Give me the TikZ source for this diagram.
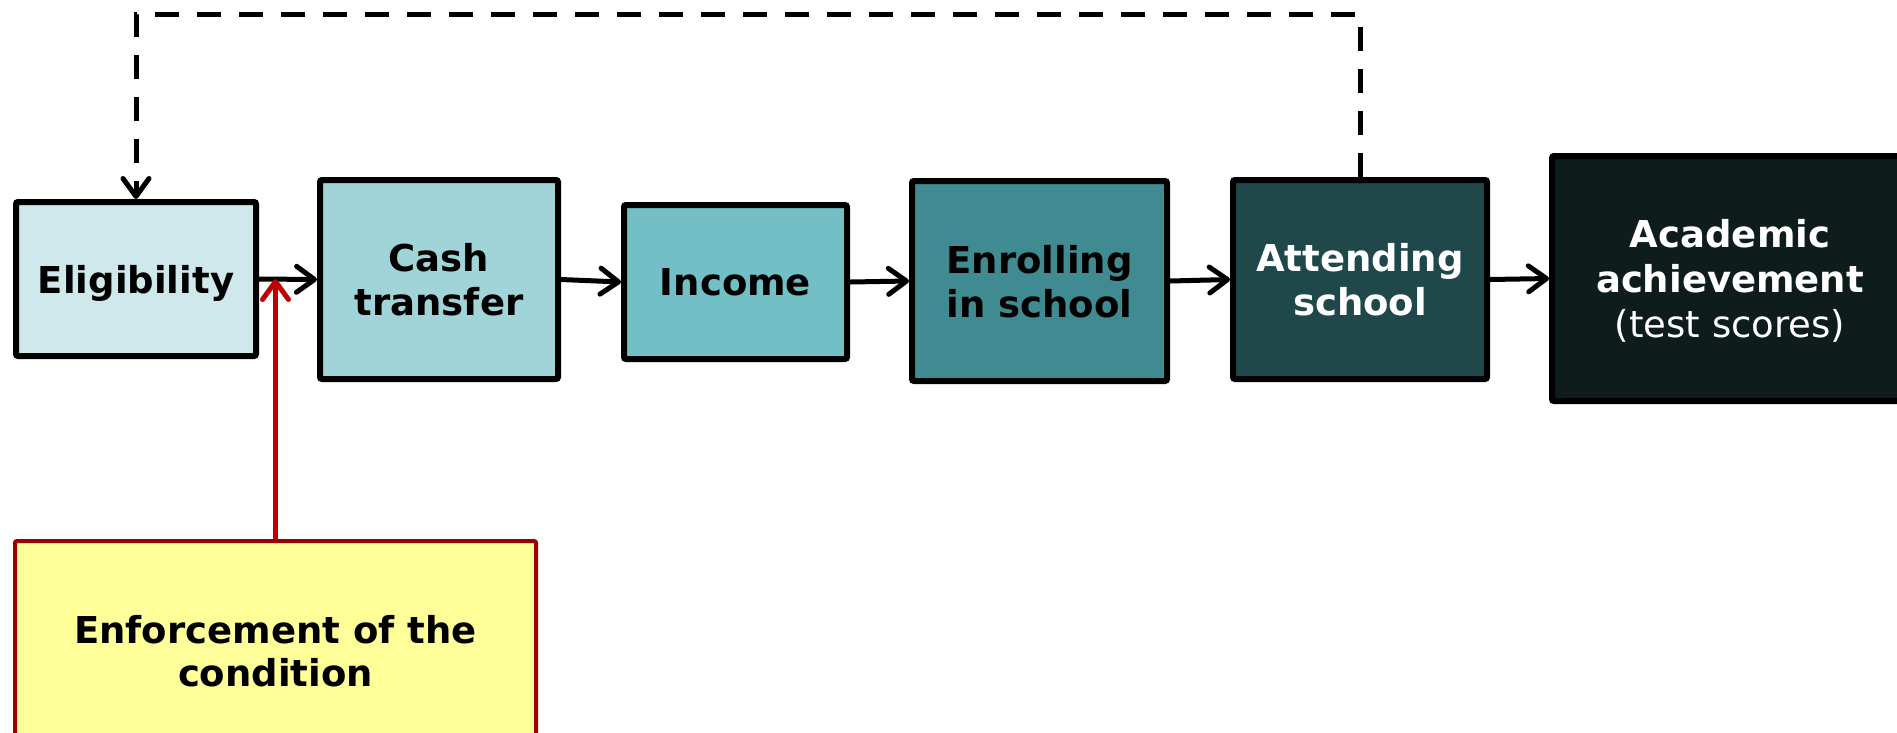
\documentclass[tikz,border=0pt]{standalone}
\usepackage{fontspec}
\setmainfont{DejaVu Sans}
\usetikzlibrary{arrows.meta}

\definecolor{eligC}{HTML}{CFE8EC}
\definecolor{cashC}{HTML}{A0D4D8}
\definecolor{incomeC}{HTML}{72BFC5}
\definecolor{enrollC}{HTML}{3F8B91}
\definecolor{attendC}{HTML}{20484A}
\definecolor{academicC}{HTML}{0E1C1C}
\definecolor{enforceC}{HTML}{FFFF99}
\definecolor{enforceLine}{HTML}{990000}
\definecolor{redArrow}{HTML}{C00000}

\tikzset{
  box/.style={draw=black, line width=6pt, rounded corners=2pt, inner sep=0pt,
    align=center, text depth=0pt, font=\fontsize{37}{44}\selectfont\bfseries},
  flow/.style={line width=5pt, line cap=round,
    -{Straight Barb[length=18pt,width=26pt,round]}},
  feedback/.style={flow, dash pattern=on 24pt off 18pt, line cap=butt},
}

\begin{document}
\begin{tikzpicture}[x=1pt, y=-1pt]
  \useasboundingbox (0,0) rectangle (1897,732);
  \clip (0,0) rectangle (1897,732);

  % chain of stages
  \node[box, fill=eligC, minimum width=240pt, minimum height=154pt]
    (elig) at (136,279) {Eligibility};
  \node[box, fill=cashC, minimum width=238pt, minimum height=199pt]
    (cash) at (439,279.5) {Cash\\transfer};
  \node[box, fill=incomeC, minimum width=223pt, minimum height=154pt]
    (income) at (735.5,282) {Income};
  \node[box, fill=enrollC, minimum width=255pt, minimum height=200pt]
    (enroll) at (1039.5,281) {Enrolling\\in school};
  \node[box, fill=attendC, text=white, minimum width=254pt, minimum height=199pt]
    (attend) at (1360,279.5) {Attending\\school};
  \node[box, fill=academicC, text=white, minimum width=356pt, minimum height=245pt,
        font=\fontsize{37}{45}\selectfont\bfseries]
    (academic) at (1730,278.5) {Academic\\achievement\\{\mdseries(test scores)}};

  % enforcement of the condition
  \node[box, fill=enforceC, draw=enforceLine, line width=4pt,
        minimum width=521pt, minimum height=220pt,
        font=\fontsize{37}{43}\selectfont\bfseries]
    (enforce) at (275.5,651) {Enforcement of the\\condition};

  % main flow arrows
  \draw[flow] (elig.east) -- (cash.west);
  \draw[flow] (cash.east) -- (income.west);
  \draw[flow] (income.east) -- (enroll.west);
  \draw[flow] (enroll.east) -- (attend.west);
  \draw[flow] (attend.east) -- (academic.west);

  % enforcement acting on the eligibility link
  \draw[flow, draw=redArrow, line cap=butt] (enforce.north) -- (enforce.north |- elig.east);

  % feedback from attendance to eligibility
  \coordinate (top) at (0,14);
  \draw[feedback] (attend.north) -- (attend.north |- top) -| (elig.north);
\end{tikzpicture}
\end{document}
